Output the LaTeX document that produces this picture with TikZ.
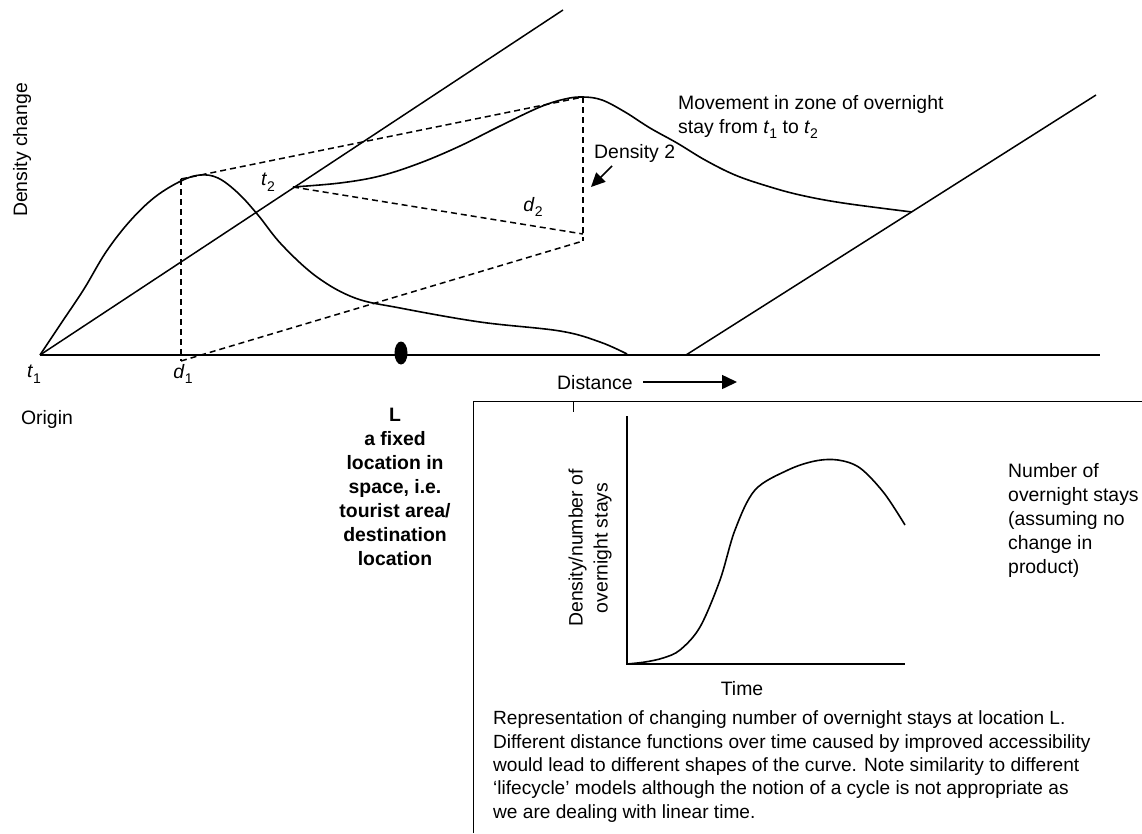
\documentclass[tikz,border=0pt]{standalone}
\usepackage{fontspec}
\setmainfont{Liberation Sans}
\usetikzlibrary{arrows.meta,shapes.geometric}
% italic letter with an upright subscript digit
\newcommand\ixsub[2]{\textit{#1}\raisebox{-5.5pt}{\fontsize{14}{14}\selectfont #2}}
\begin{document}
\begin{tikzpicture}[x=1pt,y=-1pt,
  every node/.style={font=\fontsize{19.4}{24}\selectfont, inner sep=0pt},
  axisline/.style={line width=1.5pt},
  dashline/.style={line width=1.5pt, dash pattern=on 6pt off 4pt},
  curveline/.style={line width=1.6pt},
  thinline/.style={line width=1pt},
  bigtip/.style={-{Triangle[length=15pt,width=14pt]}},
]
\useasboundingbox (0,0) rectangle (1142,833);

% key points of the distance diagram
\coordinate (O) at (40,355);
\coordinate (axisEnd) at (1100,355);
\coordinate (diagTop) at (563,10);
\coordinate (T2) at (293,187);
\coordinate (P1) at (181,179);
\coordinate (D1) at (181,361);
\coordinate (P2) at (583,97);
\coordinate (K1) at (583,234);
\coordinate (K2) at (583,241);
\coordinate (diagB1) at (686,355);
\coordinate (diagB2) at (1096,95);

% distance axis and the two time lines
\draw[axisline] (O) -- (axisEnd);
\draw[axisline] (O) -- (diagTop);
\draw[axisline] (diagB1) -- (diagB2);

% density curve at t1
\draw[curveline] plot[smooth, tension=0.6] coordinates {
  (40,355) (62,322) (84,289) (106,252) (130,221) (155,197) (181,181) (200,175)
  (218,178) (238,193) (258,215) (282,245) (317,277) (355,298) (400,308)
  (480,322) (560,331) (600,342) (627,354)};

% density curve at t2
\draw[curveline] plot[smooth, tension=0.6] coordinates {
  (293,187) (340,183) (380,176) (420,163) (460,146) (500,126) (540,107)
  (565,99) (583,97) (602,100) (625,112) (650,128) (677,143) (705,160)
  (735,175) (767,186) (800,195) (843,203) (912,212)};

% dashed construction lines
\draw[dashline] (P1) -- (D1);
\draw[dashline] (D1) -- (K2);
\draw[dashline] (P1) -- (P2);
\draw[dashline] (T2) -- (K1);
\draw[dashline] (P2) -- (K2);

% location L
\node[ellipse, fill=black, minimum width=13pt, minimum height=23pt] (Ldot) at (401,353) {};

% labels of the distance diagram
\node[rotate=90] (ylab) at (22,150) {Density change};
\node (t1lab) at (34,374) {\ixsub{t}{1}};
\node (d1lab) at (183,374) {\ixsub{d}{1}};
\node (t2lab) at (268,182) {\ixsub{t}{2}};
\node (d2lab) at (533,207) {\ixsub{d}{2}};
\node (origin) at (47,419) {Origin};
\node[anchor=base west] (dens2) at (594,158) {Density 2};
\node[anchor=base west, align=left] (move) at (678,133)
  {Movement in zone of overnight\\stay from \ixsub{t}{1} to \ixsub{t}{2}};
\node[anchor=base west] (dist) at (557,389) {Distance};
\node[anchor=base, align=center, font=\fontsize{19.4}{24}\selectfont\bfseries] (Ltext) at (395,565)
  {L\\a fixed\\location in\\space, i.e.\\tourist area/\\destination\\location};

% arrows
\coordinate (d2from) at (612,166);
\coordinate (d2to) at (591,187);
\draw[line width=1.6pt, -{Triangle[length=14pt,width=13pt]}] (d2from) -- (d2to);
\coordinate (distFrom) at (643,382);
\coordinate (distTo) at (737,382);
\draw[axisline, bigtip] (distFrom) -- (distTo);

% frame of the time graph
\coordinate (boxBL) at (473,833);
\coordinate (boxTL) at (473,401);
\coordinate (boxTR) at (1142,401);
\draw[thinline] (boxBL) -- (boxTL) -- (boxTR);
\coordinate (tickA) at (573,401);
\coordinate (tickB) at (573,412);
\draw[thinline] (tickA) -- (tickB);

% time graph
\coordinate (iTop) at (627,416);
\coordinate (iO) at (627,664);
\coordinate (iEnd) at (905,664);
\draw[axisline] (iTop) -- (iO) -- (iEnd);
\draw[curveline] plot[smooth, tension=0.55] coordinates {
  (627,664) (645,662) (663,658) (680,650) (700,627) (720,580) (735,530)
  (755,490) (788,470) (815,461) (838,460) (860,468) (884,493) (905,525)};

\node[rotate=90, align=center, font=\fontsize{19.4}{25}\selectfont] (ilab) at (590,548)
  {Density/number of\\overnight stays};
\node[anchor=base] (time) at (742,695) {Time};
\node[anchor=base west, align=left] (numlab) at (1008,573)
  {Number of\\overnight stays\\(assuming no\\change in\\product)};
\node[anchor=base west, align=left, font=\fontsize{19.1}{23.3}\selectfont] (note) at (493,818)
  {Representation of changing number of overnight stays at location L.\\
   Different distance functions over time caused by improved accessibility\\
   would lead to different shapes of the curve. Note similarity to different\\
   `lifecycle' models although the notion of a cycle is not appropriate as\\
   we are dealing with linear time.};
\end{tikzpicture}
\end{document}
